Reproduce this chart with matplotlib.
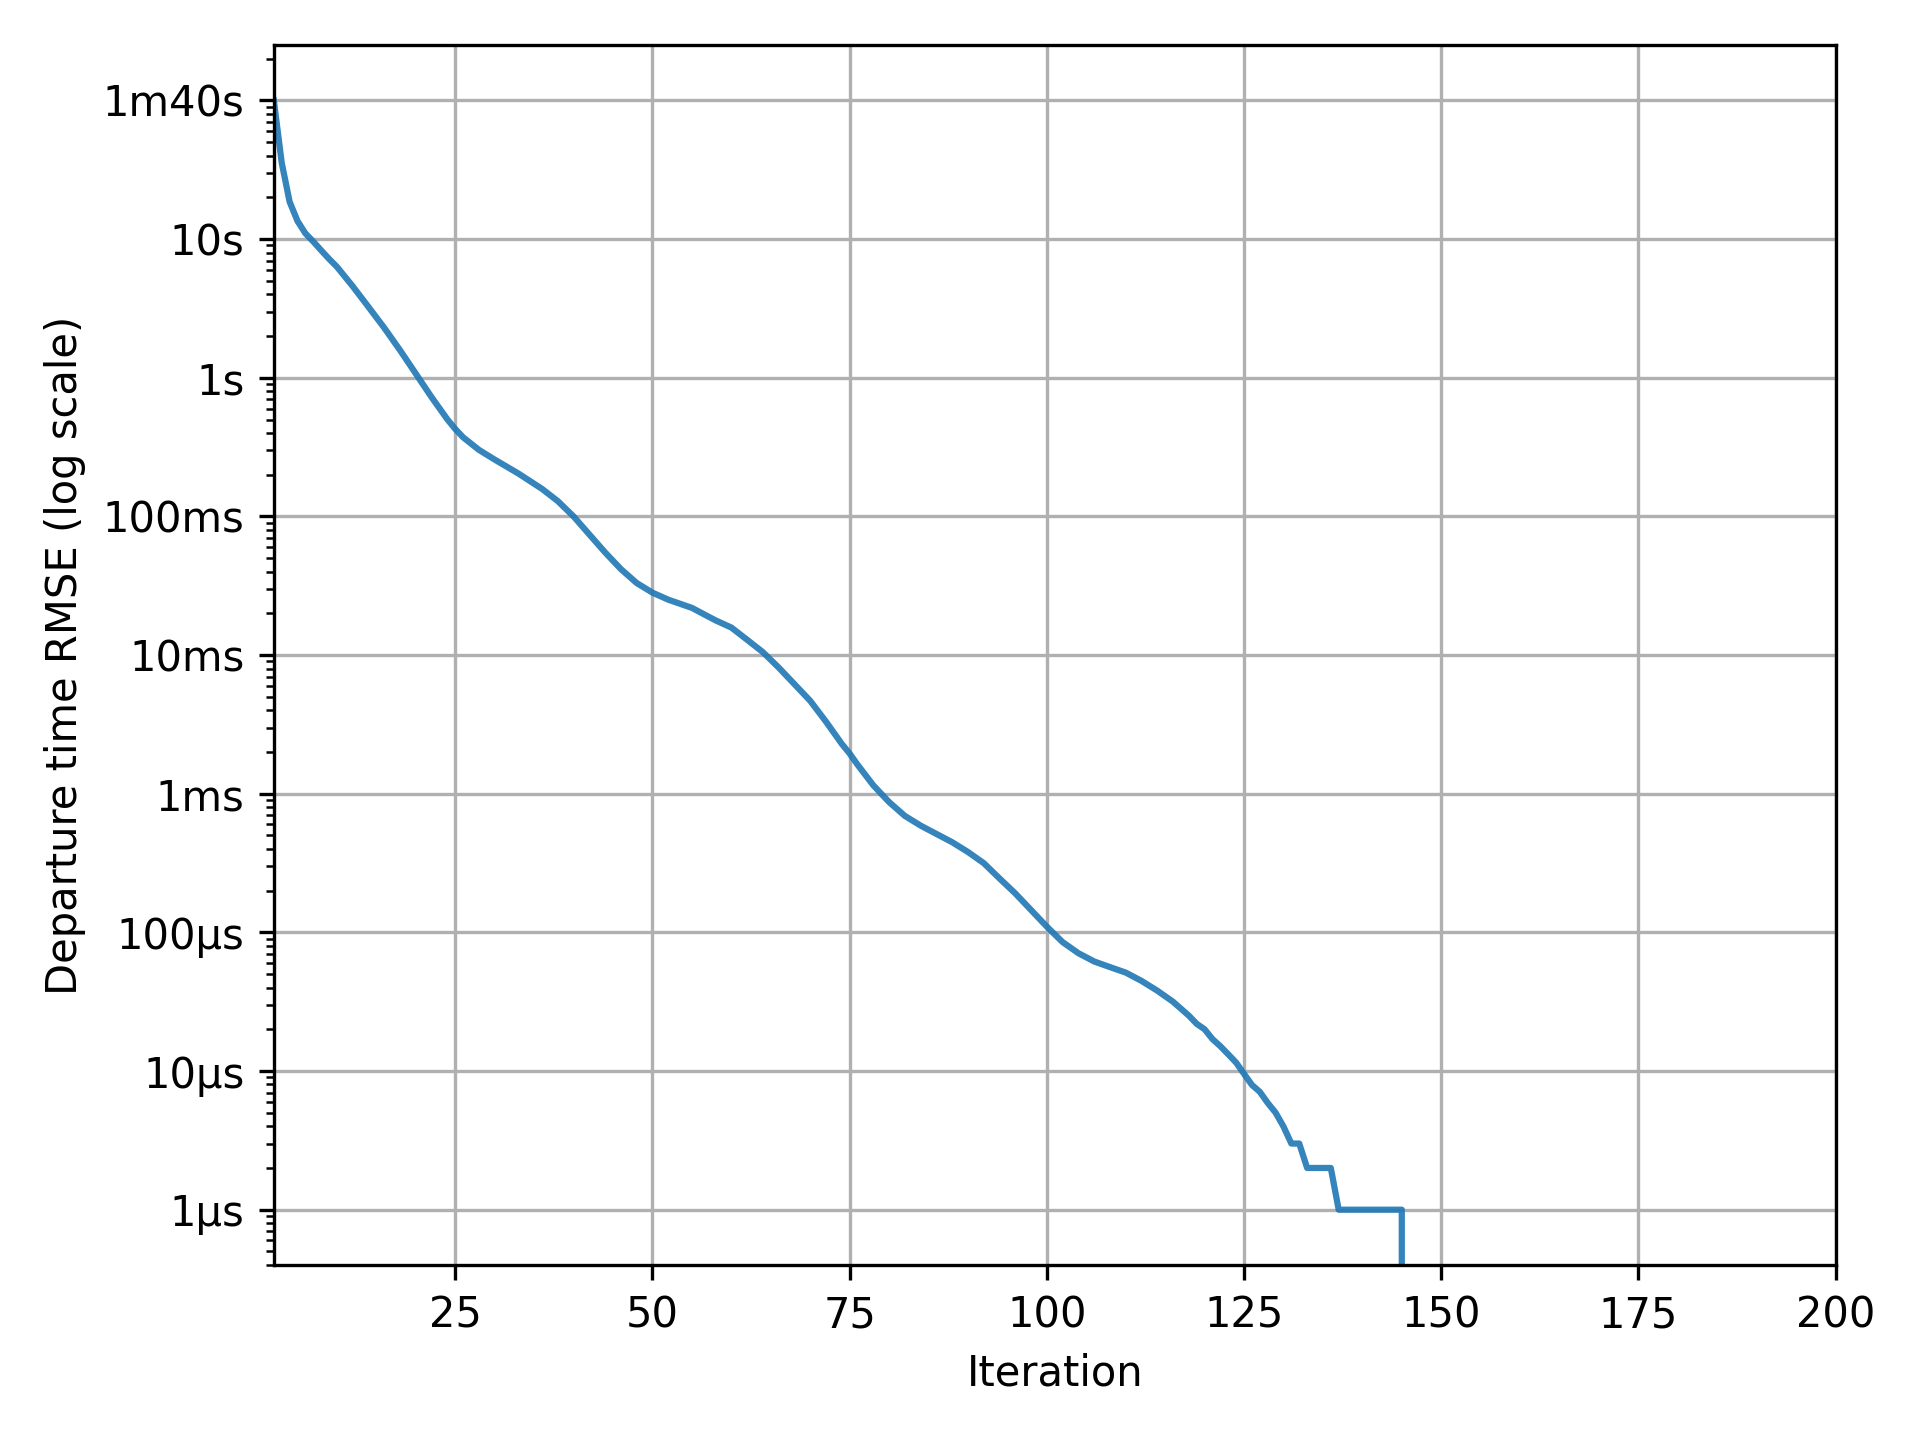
import matplotlib
matplotlib.use("Agg")
import matplotlib.pyplot as plt
from matplotlib.ticker import FuncFormatter

# departure time RMSE (seconds) per iteration
iterations = [2, 3, 4, 5, 6, 7, 8, 9, 10, 12, 14, 16, 18, 20, 22, 24, 25, 26, 28, 30,
              33, 36, 38, 40, 42, 44, 46, 48, 50, 52, 55, 58, 60, 62, 64, 66, 68,
              70, 72, 74, 75, 76, 78, 80, 82, 84, 86, 88, 90, 92, 94, 96, 98, 100,
              102, 104, 106, 108, 110, 112, 114, 116, 118, 119, 120, 121, 122, 123,
              124, 125, 126, 127, 128, 129, 130, 131, 132, 133, 134, 135, 136, 137,
              138, 139, 140, 141, 142, 143, 144, 145, 146]
rmse = [100.0, 35.5, 18.6, 13.5, 11.0, 9.6, 8.3, 7.2, 6.31, 4.57, 3.24, 2.29, 1.58,
        1.07, 0.724, 0.501, 0.427, 0.372, 0.302, 0.257, 0.204, 0.158, 0.129,
        0.100, 0.0741, 0.0550, 0.0417, 0.0331, 0.0282, 0.0251, 0.0219, 0.0178,
        0.0158, 0.0129, 0.0105, 0.00813, 0.00617, 0.00468, 0.00331, 0.00229,
        0.00195, 0.00162, 0.00115, 8.71e-4, 6.92e-4, 5.89e-4, 5.13e-4, 4.47e-4,
        3.80e-4, 3.16e-4, 2.45e-4, 1.91e-4, 1.45e-4, 1.10e-4, 8.51e-5, 7.08e-5,
        6.17e-5, 5.62e-5, 5.13e-5, 4.47e-5, 3.80e-5, 3.16e-5, 2.51e-5, 2.19e-5,
        2.00e-5, 1.70e-5, 1.51e-5, 1.32e-5, 1.15e-5, 9.55e-6, 7.94e-6, 7.08e-6,
        5.89e-6, 5.01e-6, 3.98e-6, 3e-6, 3e-6, 2e-6, 2e-6, 2e-6, 2e-6, 1e-6,
        1e-6, 1e-6, 1e-6, 1e-6, 1e-6, 1e-6, 1e-6, 1e-6, 0.0]


def fmt_time(v, pos):
    if v >= 60:
        m, s = divmod(round(v), 60)
        return f"{m}m{s}s"
    if v >= 1:
        return f"{v:g}s"
    if v >= 1e-3:
        return f"{v * 1e3:.0f}ms"
    return f"{v * 1e6:.0f}µs"


fig, ax = plt.subplots(figsize=(6.4, 4.8))
ax.set_yscale("log")
ax.plot(iterations, rmse, color="tab:blue", alpha=0.9)
ax.set_xlim(2, 200)
ax.set_xticks(range(25, 201, 25))
ax.yaxis.set_major_formatter(FuncFormatter(fmt_time))
ax.grid(True)
ax.set_xlabel("Iteration")
ax.set_ylabel("Departure time RMSE (log scale)")
fig.tight_layout()
fig.savefig("out.png", dpi=300)
